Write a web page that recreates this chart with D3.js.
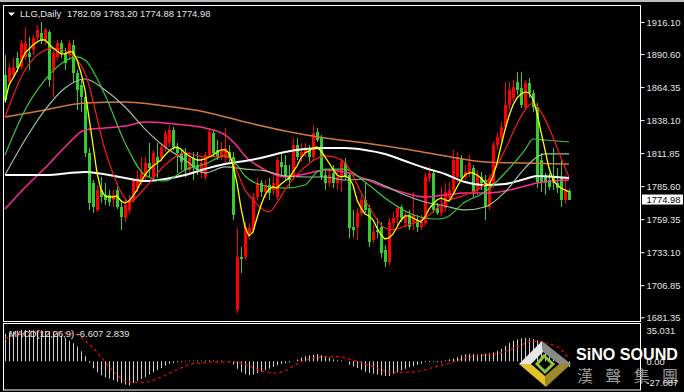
<!DOCTYPE html>
<html>
<head>
<meta charset="utf-8">
<script src="https://cdn.jsdelivr.net/npm/d3@7"></script>
<style>
  html, body { margin: 0; padding: 0; background: #000; }
  svg { display: block; }
</style>
</head>
<body>
<svg id="chart" width="684" height="392"></svg>
<script>
// daily candles, oldest first
const candleOpen = [
  1874.0,1868.4,1874.0,1887.5,1880.3,1888.3,1891.5,1893.9,1903.4,1907.4,
  1901.8,1908.2,1877.9,1888.3,1899.4,1891.5,1889.9,1897.8,1875.6,1866.0,
  1856.5,1812.0,1788.1,1766.7,1782.6,1778.6,1778.6,1774.6,1782.6,1769.0,
  1760.3,1766.7,1774.6,1784.1,1788.9,1792.9,1804.0,1792.9,1808.8,1808.0,
  1815.9,1819.9,1830.3,1816.7,1812.0,1812.0,1798.5,1808.0,1802.4,1796.1,
  1792.9,1810.4,1827.9,1814.3,1808.8,1808.0,1812.8,1808.8,1687.1,1729.3,
  1729.3,1748.4,1750.8,1777.0,1788.1,1781.0,1786.5,1782.6,1777.0,1804.8,
  1802.4,1792.9,1792.9,1818.3,1808.8,1812.0,1814.3,1808.8,1828.7,1823.9,
  1794.5,1788.1,1796.1,1788.1,1792.9,1804.0,1794.5,1753.1,1753.1,1764.3,
  1774.6,1768.2,1742.8,1750.8,1753.1,1734.9,1725.3,1756.3,1760.3,1769.0,
  1756.3,1762.7,1757.1,1758.7,1753.1,1756.3,1792.1,1796.1,1768.2,1764.3,
  1768.2,1777.0,1782.6,1792.9,1808.0,1792.9,1796.1,1800.0,1782.6,1792.9,
  1790.5,1769.0,1786.5,1818.3,1823.9,1832.6,1850.1,1855.7,1868.4,1863.6,
  1848.5,1867.6,1859.7,1848.5,1806.4,1792.9,1790.5,1792.1,1788.1,1792.9,
  1774.6,1782.09
];
const candleHigh = [
  1889.9,1883.5,1887.5,1892.3,1901.8,1912.1,1904.2,1905.8,1913.7,1916.1,
  1911.3,1909.7,1893.9,1901.8,1901.8,1895.4,1901.8,1901.8,1877.9,1870.0,
  1860.5,1815.9,1790.5,1786.5,1792.9,1788.1,1782.6,1782.6,1784.9,1774.6,
  1774.6,1778.6,1792.1,1798.5,1808.8,1808.8,1819.9,1814.3,1819.9,1819.9,
  1830.3,1834.2,1832.6,1819.9,1814.3,1815.9,1812.8,1812.8,1812.8,1808.0,
  1812.8,1831.8,1830.3,1822.3,1820.7,1831.8,1818.3,1812.8,1752.3,1737.2,
  1757.1,1756.3,1780.2,1792.1,1790.5,1790.5,1792.1,1794.5,1808.8,1812.8,
  1810.4,1802.4,1823.9,1823.9,1819.9,1819.9,1818.3,1834.2,1831.8,1826.3,
  1798.5,1798.5,1802.4,1798.5,1808.0,1808.0,1796.9,1766.7,1768.2,1778.6,
  1788.1,1770.6,1754.7,1760.3,1757.1,1738.8,1760.3,1765.1,1770.6,1770.6,
  1766.7,1766.7,1781.0,1762.7,1762.7,1796.1,1800.9,1798.5,1772.2,1784.9,
  1788.1,1788.9,1814.3,1812.8,1810.4,1802.4,1810.4,1802.4,1798.5,1796.9,
  1794.5,1794.5,1820.7,1828.7,1836.6,1868.4,1868.4,1870.0,1876.4,1876.4,
  1870.0,1871.6,1862.1,1851.7,1812.0,1796.1,1796.1,1815.9,1800.0,1806.4,
  1794.5,1783.20
];
const candleLow = [
  1851.7,1865.2,1871.6,1876.4,1877.9,1885.9,1877.9,1889.9,1900.2,1898.6,
  1897.8,1864.4,1856.5,1885.9,1887.5,1877.9,1885.9,1868.4,1846.2,1844.6,
  1808.8,1766.7,1764.3,1765.1,1772.2,1770.6,1769.8,1769.0,1767.4,1750.8,
  1757.1,1763.5,1772.2,1781.0,1786.5,1790.5,1792.9,1790.5,1792.1,1804.8,
  1812.8,1816.7,1814.3,1796.1,1798.5,1792.9,1794.5,1790.5,1794.5,1792.1,
  1790.5,1808.0,1808.8,1806.4,1806.4,1804.8,1804.8,1758.7,1684.8,1716.6,
  1726.9,1742.8,1748.4,1774.6,1777.0,1776.2,1774.6,1778.6,1774.6,1794.5,
  1790.5,1784.1,1790.5,1806.4,1804.8,1808.8,1804.8,1806.4,1820.7,1790.5,
  1782.6,1784.9,1784.1,1782.6,1781.0,1790.5,1744.4,1745.2,1742.8,1761.1,
  1764.3,1737.2,1740.4,1744.4,1728.5,1721.3,1722.9,1750.8,1754.7,1757.1,
  1752.3,1750.8,1750.8,1749.2,1750.8,1753.9,1788.9,1764.3,1762.7,1761.9,
  1765.1,1774.6,1780.2,1788.9,1788.9,1790.5,1792.9,1777.0,1778.6,1782.6,
  1758.7,1766.7,1784.1,1814.3,1820.7,1830.3,1846.2,1852.5,1858.1,1847.7,
  1846.2,1855.7,1844.6,1784.1,1781.0,1778.6,1782.6,1782.6,1780.2,1769.0,
  1772.2,1774.88
];
const candleClose = [
  1854.1,1879.5,1880.3,1879.5,1899.4,1899.4,1888.3,1903.4,1909.7,1901.8,
  1909.7,1870.0,1891.5,1899.4,1891.5,1883.5,1899.4,1875.6,1862.1,1856.5,
  1812.0,1772.2,1769.0,1782.6,1777.0,1774.6,1773.0,1778.6,1769.0,1761.1,
  1770.6,1774.6,1790.5,1792.1,1796.9,1804.0,1800.0,1812.0,1804.8,1816.7,
  1827.9,1830.3,1816.7,1812.0,1804.8,1798.5,1808.0,1800.9,1798.5,1804.0,
  1810.4,1828.7,1812.0,1808.8,1814.3,1815.9,1808.0,1762.7,1729.3,1727.7,
  1753.1,1752.3,1777.0,1788.1,1781.0,1786.5,1780.2,1788.1,1806.4,1800.9,
  1792.9,1790.5,1818.3,1808.8,1812.8,1814.3,1808.8,1827.9,1822.3,1792.9,
  1788.1,1794.5,1788.1,1792.9,1804.8,1792.9,1752.3,1750.8,1764.3,1774.6,
  1766.7,1741.2,1749.2,1749.2,1732.5,1725.3,1757.1,1760.3,1768.2,1760.3,
  1762.7,1753.1,1762.7,1753.1,1757.1,1792.9,1796.1,1766.7,1764.3,1769.0,
  1781.0,1782.6,1806.4,1808.8,1792.1,1796.9,1804.0,1781.0,1794.5,1788.1,
  1769.0,1792.1,1818.3,1824.7,1832.6,1850.1,1862.1,1864.4,1862.1,1850.1,
  1867.6,1859.7,1848.5,1788.9,1788.9,1788.1,1784.9,1788.1,1784.1,1774.6,
  1782.6,1774.98
];

// fast average, one value per bar
const maYellow = [
  1852.5,1866.0,1871.6,1877.2,1884.3,1891.5,1894.6,1897.8,1900.2,1901.8,
  1901.8,1898.6,1895.4,1893.1,1890.7,1890.7,1892.3,1892.3,1885.9,1875.6,
  1862.1,1839.8,1818.3,1796.1,1782.6,1777.8,1777.0,1777.0,1777.8,1773.8,
  1772.2,1773.8,1777.8,1782.6,1788.9,1794.5,1798.5,1801.6,1804.0,1806.4,
  1810.4,1813.6,1815.9,1816.7,1815.1,1812.0,1809.6,1808.0,1806.4,1806.4,
  1807.2,1808.8,1810.4,1812.8,1814.4,1814.4,1812.0,1802.4,1788.1,1768.2,
  1753.1,1746.0,1749.2,1760.3,1770.6,1778.6,1783.3,1784.9,1784.1,1787.3,
  1789.7,1792.1,1796.9,1801.6,1808.0,1812.0,1813.6,1815.9,1816.7,1813.6,
  1808.8,1804.0,1799.2,1794.5,1792.9,1793.7,1792.1,1786.5,1774.6,1768.2,
  1763.5,1761.9,1758.7,1752.3,1746.8,1743.6,1744.4,1747.6,1753.1,1758.7,
  1761.9,1761.9,1760.3,1758.7,1757.1,1761.1,1767.4,1771.4,1774.6,1776.2,
  1774.6,1773.8,1778.6,1784.9,1790.5,1794.5,1796.1,1796.1,1794.5,1792.1,
  1788.1,1786.5,1793.7,1804.0,1817.5,1830.3,1841.4,1850.1,1855.7,1858.9,
  1860.5,1859.7,1854.9,1843.8,1828.7,1814.4,1800.0,1790.5,1786.5,1784.1,
  1782.6,1781.0
];

// slower averages as [bar, price]
const maRed = [[0,1840.6],[5,1877.9],[10,1893.9],[12,1895.4],[15,1893.1],[20,1875.6],[25,1814.4],[29,1781.0],[31,1773.0],[35,1784.1],[40,1802.4],[45,1812.0],[50,1808.8],[55,1809.6],[57,1804.0],[60,1782.6],[62,1774.6],[64,1768.2],[66,1765.1],[68,1772.2],[70,1782.6],[75,1800.9],[80,1809.6],[83,1808.0],[85,1804.0],[90,1774.6],[95,1752.3],[97,1750.8],[100,1753.9],[105,1760.3],[110,1773.0],[115,1778.6],[120,1787.3],[125,1814.4],[128,1835.0],[130,1846.2],[132,1851.7],[134,1844.6],[137,1824.7],[140,1800.0],[141,1792.9]];
const maGreen = [[0,1810.4],[5,1846.2],[10,1870.0],[15,1885.1],[18,1888.3],[20,1885.9],[25,1858.1],[30,1819.9],[35,1794.5],[40,1789.7],[45,1798.5],[50,1803.2],[55,1809.6],[58,1802.4],[60,1793.7],[65,1785.7],[70,1784.1],[75,1786.5],[78,1796.9],[80,1799.2],[85,1799.2],[90,1788.9],[95,1776.2],[100,1765.9],[105,1760.3],[108,1759.5],[110,1760.3],[115,1773.0],[120,1781.0],[125,1796.1],[130,1814.4],[132,1823.1],[135,1822.3],[141,1820.7]];
const maGrey = [[0,1794.5],[5,1822.3],[10,1846.2],[15,1863.6],[20,1870.8],[25,1862.1],[30,1848.5],[35,1831.0],[40,1816.7],[45,1806.4],[50,1796.1],[55,1800.9],[60,1799.2],[65,1797.7],[70,1793.7],[75,1792.9],[80,1792.9],[85,1790.5],[90,1791.3],[95,1785.7],[100,1778.6],[105,1773.0],[110,1769.8],[115,1766.7],[120,1769.0],[125,1781.0],[130,1800.0],[133,1808.8],[135,1811.2],[141,1811.2]];
const maWhite = [[0,1794.5],[10,1794.5],[20,1796.9],[30,1792.1],[35,1789.7],[40,1791.3],[45,1794.5],[50,1799.2],[55,1803.2],[60,1805.6],[65,1808.8],[70,1812.8],[75,1815.1],[80,1815.9],[85,1815.9],[90,1814.4],[95,1811.2],[100,1805.6],[105,1800.0],[110,1795.3],[115,1788.9],[120,1786.5],[125,1787.3],[130,1791.3],[133,1793.7],[141,1792.1]];
const maPink = [[0,1767.4],[5,1784.6],[10,1800.0],[15,1816.7],[20,1830.3],[25,1831.8],[30,1833.4],[35,1836.6],[40,1835.8],[45,1834.2],[50,1831.8],[55,1826.3],[58,1817.5],[60,1809.6],[65,1798.5],[70,1792.9],[75,1795.3],[80,1798.5],[85,1796.9],[90,1791.3],[95,1784.9],[100,1780.2],[105,1777.0],[110,1778.6],[115,1780.2],[120,1780.2],[125,1781.8],[130,1785.7],[133,1788.1],[141,1790.5]];
const maOrange = [[0,1840.6],[10,1846.2],[20,1851.7],[30,1852.5],[40,1849.3],[50,1844.6],[60,1836.6],[70,1829.5],[80,1823.9],[90,1819.9],[100,1815.1],[110,1809.6],[120,1804.8],[130,1804.0],[141,1803.2]];

// MACD(12,26,9) histogram per bar and its signal as [bar, value]
const macdMain = [
  30.8,32.1,33.4,34.3,35.0,35.031,34.9,34.7,34.7,34.6,
  33.9,33.3,32.5,31.4,28.7,25.8,23.0,20.2,16.6,11.2,
  5.6,-1.7,-7.8,-12.3,-15.7,-17.9,-19.4,-21.1,-22.8,-24.6,
  -26.1,-27.087,-24.4,-21.7,-19.7,-17.6,-14.9,-12.3,-10.0,-7.5,
  -4.8,-2.8,-1.8,-1.1,-0.7,0.4,0.7,0.6,0.9,0.7,
  1.0,1.1,0.8,0.6,0.9,0.4,-0.9,-3.7,-8.4,-12.3,
  -14.6,-15.5,-14.8,-13.1,-11.5,-9.9,-8.2,-6.2,-4.7,-3.0,
  -2.0,-1.2,-0.2,2.1,4.3,5.6,6.7,7.4,8.1,6.7,
  5.7,4.0,2.2,1.2,0.9,0.2,-3.9,-5.9,-7.6,-9.5,
  -11.8,-12.9,-13.8,-14.9,-15.7,-16.5,-16.4,-14.0,-12.3,-10.1,
  -8.4,-6.7,-5.4,-4.1,-2.6,-1.0,-0.8,-0.9,-1.1,-1.1,
  0.9,2.1,3.1,4.7,6.7,7.8,8.2,8.1,7.6,8.1,
  8.5,9.1,10.1,11.8,14.0,17.4,20.7,23.0,24.4,25.5,
  26.1,25.8,25.0,23.5,20.5,16.8,13.3,9.5,5.6,2.0,
  -1.7,-6.607
];
const macdSignal = [[0,25.0],[2,28.9],[5,31.4],[10,33.2],[15,31.8],[18,29.7],[20,23.0],[22,15.1],[24,5.0],[26,-6.2],[28,-15.1],[30,-21.8],[33,-23.5],[36,-22.6],[38,-19.6],[40,-15.9],[42,-11.5],[44,-7.4],[47,-2.7],[52,-0.9],[57,-0.8],[60,-3.1],[62,-7.3],[65,-11.5],[67,-13.1],[70,-10.6],[72,-5.8],[74,-0.6],[77,3.2],[80,5.3],[83,5.2],[86,2.8],[88,0],[90,-3.0],[93,-7.5],[96,-12.0],[99,-12.3],[102,-12.1],[105,-9.3],[108,-5.6],[111,-2.2],[114,2.2],[117,5.4],[120,6.9],[123,8.7],[126,12.8],[129,17.9],[131,22.0],[133,22.4],[135,21.1],[137,18.1],[139,13.4],[140,8.0],[141,2.839]];

const priceTicks = ["1916.10","1890.60","1864.35","1838.10","1811.85","1785.60","1759.35","1733.10","1706.85","1681.35"];
const macdTicks = ["35.031","0.00","-27.087"];

const font = "'Liberation Sans', Arial, sans-serif";
const fsize = "9.4px";
const textCol = "#e4e4e4";

const svg = d3.select("#chart");
svg.append("rect").attr("width", 684).attr("height", 392).attr("fill", "#000");
svg.append("rect").attr("width", 684).attr("height", 2).attr("fill", "#bcbcbc");

var x = d3.scaleLinear().domain([0, 141]).range([5, 569]);
var y = d3.scaleLinear().domain([1681.35, 1916.10]).range([317.3, 22]);
var yM = d3.scaleLinear().domain([-27.087, 35.031]).range([385.5, 330]);

svg.append("clipPath").attr("id", "main-clip")
  .append("rect").attr("x", 4).attr("y", 6).attr("width", 636).attr("height", 315);

// candles (red = up bar, green = down bar)
const bars = d3.range(candleOpen.length);
const up = "#ff0000", down = "#32cd32";
const candles = svg.append("g").attr("clip-path", "url(#main-clip)").attr("shape-rendering", "crispEdges");

candles.selectAll(".wick").data(bars).enter().append("rect")
  .attr("x", (i) => Math.round(x(i)))
  .attr("y", (i) => y(candleHigh[i]))
  .attr("width", 1)
  .attr("height", (i) => Math.max(1, y(candleLow[i]) - y(candleHigh[i])))
  .attr("fill", (i) => candleClose[i] >= candleOpen[i] ? up : down);

candles.selectAll(".body").data(bars).enter().append("rect")
  .attr("x", (i) => Math.round(x(i)) - 1)
  .attr("y", (i) => y(Math.max(candleOpen[i], candleClose[i])))
  .attr("width", 3)
  .attr("height", (i) => Math.max(1, Math.abs(y(candleOpen[i]) - y(candleClose[i]))))
  .attr("fill", (i) => candleClose[i] >= candleOpen[i] ? up : down);

// moving averages
const lines = svg.append("g").attr("clip-path", "url(#main-clip)").attr("fill", "none");
const smooth = d3.line().x((d) => x(d[0])).y((d) => y(d[1])).curve(d3.curveMonotoneX);

lines.append("path").attr("d", smooth(maOrange)).attr("stroke", "#d2783c").attr("stroke-width", 1.5);
lines.append("path").attr("d", smooth(maPink)).attr("stroke", "#ff2a96").attr("stroke-width", 1.5);
lines.append("path").attr("d", smooth(maWhite)).attr("stroke", "#ffffff").attr("stroke-width", 2);
lines.append("path").attr("d", smooth(maGrey)).attr("stroke", "#9cc29c").attr("stroke-width", 1.2);
lines.append("path").attr("d", smooth(maGreen)).attr("stroke", "#3cc83c").attr("stroke-width", 1.2);
lines.append("path").attr("d", smooth(maRed)).attr("stroke", "#ff1a1a").attr("stroke-width", 1.2);
lines.append("path")
  .attr("d", d3.line().x((d, i) => x(i)).y((d) => y(d))(maYellow))
  .attr("stroke", "#ffff00").attr("stroke-width", 1.3);

// panel frames
svg.append("rect").attr("x", 3.5).attr("y", 5.5).attr("width", 637).attr("height", 316)
  .attr("fill", "none").attr("stroke", "#fff");
svg.append("rect").attr("x", 3.5).attr("y", 323.5).attr("width", 637).attr("height", 66.5)
  .attr("fill", "none").attr("stroke", "#fff");

// price axis
const priceAxis = d3.axisRight(y)
  .tickValues(priceTicks.map(Number))
  .tickFormat((d, i) => priceTicks[i])
  .tickSize(4).tickPadding(2);
const pa = svg.append("g").attr("transform", "translate(640.5,0)").call(priceAxis);
pa.select(".domain").remove();
pa.selectAll("line").attr("stroke", "#fff");
pa.selectAll("text").attr("fill", textCol).style("font-family", font).style("font-size", fsize);

// current price tag
svg.append("rect").attr("x", 642).attr("y", y(1774.98) - 5).attr("width", 41).attr("height", 10).attr("fill", "#fff");
svg.append("text").attr("x", 646.5).attr("y", y(1774.98)).attr("dy", "0.35em")
  .attr("fill", "#000").style("font-family", font).style("font-size", fsize).text("1774.98");

// MACD histogram + signal
const macd = svg.append("g");
macd.selectAll("line").data(bars).enter().append("line")
  .attr("x1", (i) => Math.round(x(i)) + 0.5).attr("x2", (i) => Math.round(x(i)) + 0.5)
  .attr("y1", yM(0)).attr("y2", (i) => yM(macdMain[i]))
  .attr("stroke", "#cfcfcf").attr("stroke-width", 1);
macd.append("path")
  .attr("d", d3.line().x((d) => x(d[0])).y((d) => yM(d[1])).curve(d3.curveMonotoneX)(macdSignal))
  .attr("fill", "none").attr("stroke", "#ff0000").attr("stroke-width", 1.2).attr("stroke-dasharray", "3,3");

// header texts
svg.append("path").attr("d", "M8,12.5 L15,12.5 L11.5,16 Z").attr("fill", "#fff");
svg.append("text").attr("x", 20).attr("y", 17.3).attr("fill", textCol)
  .style("font-family", font).style("font-size", fsize).text("LLG,Daily");
svg.append("text").attr("x", 67).attr("y", 17.3).attr("fill", textCol)
  .style("font-family", font).style("font-size", fsize).text("1782.09 1783.20 1774.88 1774.98");
svg.append("text").attr("x", 9).attr("y", 336.5).attr("fill", textCol)
  .style("font-family", font).style("font-size", fsize).text("MACD(12,26,9) -6.607 2.839");

// logo
const logo = svg.append("g");
const cx = 545, cy = 364, ow = 26, oh = 23, iw = 14, ih = 12;
const O = { t: [cx - 3, cy - oh], r: [cx + ow, cy], b: [cx + 1, cy + oh], l: [cx - ow, cy] };
const I = { t: [cx - 2, cy - ih], r: [cx + iw, cy], b: [cx, cy + ih], l: [cx - iw, cy] };
const face = (a, b, c, d, col) => logo.append("path")
  .attr("d", "M" + [a, b, c, d].map((p) => p.join(",")).join("L") + "Z").attr("fill", col);
face(O.l, O.t, I.t, I.l, "#e6e6e6");
face(O.t, O.r, I.r, I.t, "#8a8a8a");
face(O.r, O.b, I.b, I.r, "#9c8a2a");
face(O.b, O.l, I.l, I.b, "#e2c12a");
logo.append("path").attr("d", `M${cx - 1},${cy - 8}L${cx + 8},${cy}L${cx},${cy + 8}L${cx - 8},${cy}Z`)
  .attr("fill", "none").attr("stroke", "#8cc43c").attr("stroke-width", 3);
logo.append("text").attr("x", 576).attr("y", 360).attr("fill", "#fff")
  .attr("textLength", 102).attr("lengthAdjust", "spacingAndGlyphs")
  .style("font-family", font).style("font-weight", "bold").style("font-size", "17px").text("SiNO SOUND");
logo.append("text").attr("x", 577).attr("y", 382).attr("fill", "#9a9a9a")
  .attr("textLength", 101).attr("lengthAdjust", "spacing")
  .style("font-family", "'Noto Sans CJK TC', sans-serif").style("font-size", "16px").text("漢聲集團");

// MACD scale labels
const macdAxis = d3.axisRight(yM)
  .tickValues(macdTicks.map(Number))
  .tickFormat((d, i) => macdTicks[i])
  .tickSize(0).tickPadding(6);
const ma = svg.append("g").attr("transform", "translate(640.5,0)").call(macdAxis);
ma.select(".domain").remove();
ma.selectAll("text").attr("fill", textCol).style("font-family", font).style("font-size", fsize);
ma.selectAll(".tick").filter((d) => d < 0).select("text").attr("dy", "0.05em");
</script>
</body>
</html>
